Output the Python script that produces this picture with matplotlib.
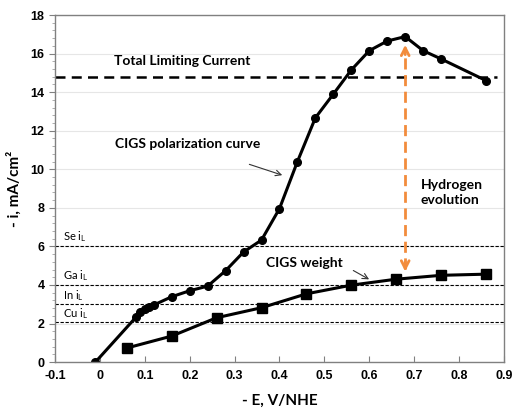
import numpy as np
import matplotlib
matplotlib.use('Agg')
import matplotlib.pyplot as plt
from matplotlib.ticker import MultipleLocator

# Polarization curve (circles)
pol_E = [-0.01, 0.08, 0.09, 0.10, 0.11, 0.12, 0.16, 0.20, 0.24, 0.28, 0.32, 0.36,
         0.40, 0.44, 0.48, 0.52, 0.56, 0.60, 0.64, 0.68, 0.72, 0.76, 0.86]
pol_i = [0.0, 2.32, 2.61, 2.75, 2.84, 2.96, 3.39, 3.70, 3.94, 4.74, 5.71, 6.33,
         7.96, 10.4, 12.67, 13.9, 15.15, 16.15, 16.65, 16.88, 16.15, 15.72, 14.6]

# CIGS weight (squares)
wt_E = [0.06, 0.16, 0.26, 0.36, 0.46, 0.56, 0.66, 0.76, 0.86]
wt_i = [0.73, 1.35, 2.30, 2.82, 3.54, 3.99, 4.30, 4.50, 4.56]

# limiting currents
total_iL = 14.8
elem_names = ['Se', 'Ga', 'In', 'Cu']
elem_iL = [6.0, 4.0, 3.0, 2.1]
elem_label_y = [6.53, 4.46, 3.44, 2.52]

# hydrogen evolution span at the peak
h2_E = 0.68
h2_top = 16.6
h2_bottom = 4.55

orange = '#F28C3C'
tick_font = {'family': 'Liberation Sans', 'weight': 'bold', 'size': 9}
text_font = {'family': 'Lato', 'weight': 'bold', 'size': 10}

fig = plt.figure(figsize=(5.14, 4.11), dpi=100)
ax = fig.add_axes([0.107, 0.119, 0.8735, 0.8445])

ax.set_xlim(-0.1, 0.9)
ax.set_ylim(0, 18)
ax.xaxis.set_major_locator(MultipleLocator(0.1))
ax.yaxis.set_major_locator(MultipleLocator(2))
ax.yaxis.set_minor_locator(MultipleLocator(0.4))
ax.grid(axis='y', which='major', color='#e6e6e6', lw=0.8)
ax.set_axisbelow(True)

for s in ax.spines.values():
    s.set_color('#808080')
    s.set_linewidth(1)
ax.tick_params(axis='x', direction='in', length=4, color='#808080', pad=6)
ax.tick_params(axis='y', which='major', direction='out', length=4, color='#808080')
ax.tick_params(axis='y', which='minor', direction='out', length=2, color='#a0a0a0')

ax.set_xticks(np.arange(-0.1, 0.91, 0.1))
ax.set_xticklabels(['-0.1', '0', '0.1', '0.2', '0.3', '0.4', '0.5', '0.6', '0.7', '0.8', '0.9'],
                   fontdict=tick_font)
ax.set_yticks(range(0, 19, 2))
ax.set_yticklabels([str(v) for v in range(0, 19, 2)], fontdict=tick_font)

# element limiting currents
for name, il, ly in zip(elem_names, elem_iL, elem_label_y):
    ax.axhline(il, color='black', lw=0.8, ls=(0, (3, 1.5)))
    ax.text(-0.082, ly, name + r' i$_\mathregular{L}$', fontsize=8, family='Lato',
            va='center', ha='left')

# total limiting current
ax.plot([-0.1, 0.884], [total_iL, total_iL], color='black', lw=1.8, ls=(0, (4, 2.5)))
ax.text(0.183, 15.63, 'Total Limiting Current', ha='center', va='center', **text_font)

ax.plot(pol_E, pol_i, '-o', color='black', lw=2.2, ms=5.5)
ax.plot(wt_E, wt_i, '-s', color='black', lw=2.2, ms=6.5)

# hydrogen evolution arrow
ax.plot([h2_E, h2_E], [h2_bottom + 0.3, h2_top - 0.3], color=orange, lw=2, ls=(0, (4, 2)))
for tip, tail in [(h2_top, h2_top - 0.8), (h2_bottom, h2_bottom + 0.8)]:
    ax.annotate('', xy=(h2_E, tip), xytext=(h2_E, tail),
                arrowprops=dict(arrowstyle='->', color=orange, lw=2, mutation_scale=14))
ax.text(0.715, 8.79, 'Hydrogen\nevolution', ha='left', va='center', linespacing=1.3, **text_font)

# curve labels
ax.text(0.195, 11.3, 'CIGS polarization curve', ha='center', va='center', **text_font)
ax.annotate('', xy=(0.412, 9.65), xytext=(0.327, 10.3),
            arrowprops=dict(arrowstyle='->', color='#333333', lw=0.8, mutation_scale=10))
ax.text(0.371, 5.15, 'CIGS weight', ha='left', va='center', **text_font)
ax.annotate('', xy=(0.605, 4.22), xytext=(0.559, 4.82),
            arrowprops=dict(arrowstyle='->', color='#333333', lw=0.8, mutation_scale=10))

ax.set_xlabel('- E, V/NHE', fontdict={'family': 'Lato', 'weight': 'bold', 'size': 11}, labelpad=8)
ax.set_ylabel('- i, mA/cm²', fontdict={'family': 'Lato', 'weight': 'bold', 'size': 11}, labelpad=6)

fig.savefig('out.png', dpi=100)
